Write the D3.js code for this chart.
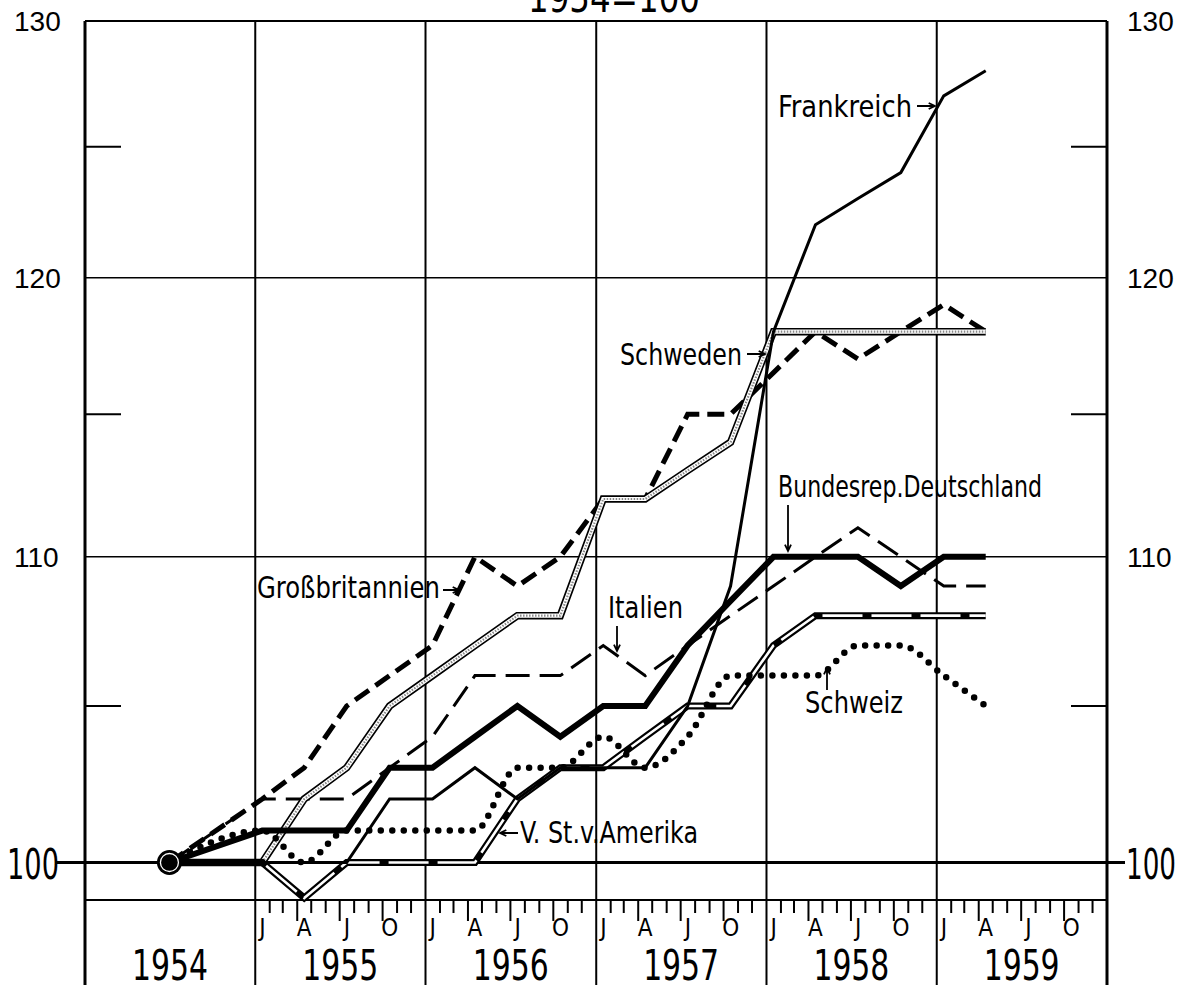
<!DOCTYPE html>
<html>
<head>
<meta charset="utf-8">
<script src="https://cdn.jsdelivr.net/npm/d3@7"></script>
<style>
  body { margin: 0; background: #fff; }
  svg { display: block; }
  .cond { font-family: "DejaVu Sans Condensed", "Liberation Sans Narrow", sans-serif; }
  .plain { font-family: "Liberation Sans", Arial, sans-serif; }
</style>
</head>
<body>
<svg id="chart" width="1187" height="991"></svg>
<script>
// Zeitpunkte: 1954 = Jahresdurchschnitt, danach Quartale (Jan, Apr, Jul, Okt)
const periods = ["1954-07-01",
  "1955-01-16","1955-04-16","1955-07-16","1955-10-16",
  "1956-01-16","1956-04-16","1956-07-16","1956-10-16",
  "1957-01-16","1957-04-16","1957-07-16","1957-10-16",
  "1958-01-16","1958-04-16","1958-07-16","1958-10-16",
  "1959-01-16","1959-04-16"];

const frankreich      = [100,100,100,100,102,102,103,102,103,103,103,105,109,118,122,123,124,127,128];
const schweden        = [100,100,102,103,105,106,107,108,108,112,112,113,114,118,118,118,118,118,118];
const grossbritannien = [100,102,103,105,106,107,110,109,110,112,112,115,115,116.5,118,117,118,119,118];
const italien         = [100,102,102,102,103,104,106,106,106,107,106,107,108,109,110,111,110,109,109];
const deutschland     = [100,101,101,101,103,103,104,105,104,105,105,107,108.5,110,110,110,109,110,110];
const usa             = [100,100,98.9,100,100,100,100,102,103,103,104,105,105,107,108,108,108,108,108];
const schweiz         = [100,101,100,101,101,101,101,103,103,104,103,104,106,106,106,107,107,106,105];

const years = [1954,1955,1956,1957,1958,1959];
const monthLetters = ["J","A","J","O"];
const gridValues = [120,110];
const halfValues = [125,115,105];
const axisLabels = [130,120,110];

const svg = d3.select("#chart");
const parse = d3.utcParse("%Y-%m-%d");

// Flaeche
const area = { left: 85, right: 1107, top: 21, base: 862.5, axisLine: 900, bottom: 985 };

const x = d3.scaleUtc()
    .domain([new Date(Date.UTC(1954,0,1)), new Date(Date.UTC(1960,0,1))])
    .range([area.left, area.right]);
const y = d3.scaleLog()
    .domain([100,130])
    .range([area.base, area.top]);

const g = svg.append("g");

// Gitter
g.selectAll(".grid").data(gridValues).enter().append("line")
    .attr("x1", area.left).attr("x2", area.right)
    .attr("y1", d => y(d)).attr("y2", d => y(d))
    .attr("stroke", "#000").attr("stroke-width", 1.6);

g.append("line")
    .attr("x1", area.left).attr("x2", area.right)
    .attr("y1", y(130)).attr("y2", y(130))
    .attr("stroke", "#000").attr("stroke-width", 2);

// kurze Striche bei 125/115/105
halfValues.forEach(v => {
    g.append("line").attr("x1", area.left).attr("x2", area.left + 36)
        .attr("y1", y(v)).attr("y2", y(v)).attr("stroke", "#000").attr("stroke-width", 2);
    g.append("line").attr("x1", area.right - 36).attr("x2", area.right)
        .attr("y1", y(v)).attr("y2", y(v)).attr("stroke", "#000").attr("stroke-width", 2);
});

// Jahreslinien
const yearStarts = years.map(yr => new Date(Date.UTC(yr,0,1))).concat([new Date(Date.UTC(1960,0,1))]);
g.selectAll(".yl").data(yearStarts).enter().append("line")
    .attr("x1", d => x(d)).attr("x2", d => x(d))
    .attr("y1", area.top).attr("y2", area.bottom)
    .attr("stroke", "#000")
    .attr("stroke-width", (d,i) => (i === 0 || i === yearStarts.length - 1) ? 3 : 2);

// Monatsachse
g.append("line")
    .attr("x1", area.left).attr("x2", area.right)
    .attr("y1", area.axisLine).attr("y2", area.axisLine)
    .attr("stroke", "#000").attr("stroke-width", 2);

const months = d3.utcMonth.range(new Date(Date.UTC(1955,0,1)), new Date(Date.UTC(1960,0,1)));
g.selectAll(".mt").data(months.filter(m => m.getUTCMonth() !== 0)).enter().append("line")
    .attr("x1", d => x(d)).attr("x2", d => x(d))
    .attr("y1", area.axisLine)
    .attr("y2", d => area.axisLine + (d.getUTCMonth() % 3 === 0 ? 21 : 13))
    .attr("stroke", "#000").attr("stroke-width", 2);

g.selectAll(".ml").data(months.filter(m => m.getUTCMonth() % 3 === 0)).enter().append("text")
    .attr("class", "cond")
    .attr("x", d => (x(d) + x(d3.utcMonth.offset(d,1))) / 2)
    .attr("y", 936)
    .attr("text-anchor", "middle")
    .attr("font-size", 24)
    .text(d => monthLetters[d.getUTCMonth() / 3]);

g.selectAll(".yr").data(years).enter().append("text")
    .attr("class", "cond")
    .attr("x", d => x(new Date(Date.UTC(d,6,2))) - 38)
    .attr("y", 980)
    .attr("font-size", 43)
    .attr("textLength", 76).attr("lengthAdjust", "spacingAndGlyphs")
    .text(d => d);

// 100-Linie
g.append("line")
    .attr("x1", 55).attr("x2", 1125)
    .attr("y1", y(100)).attr("y2", y(100))
    .attr("stroke", "#000").attr("stroke-width", 3);

// Achsenbeschriftung
axisLabels.forEach(v => {
    g.append("text").attr("class", "plain").attr("x", 14).attr("y", y(v) + 10)
        .attr("font-size", 28).text(v);
    g.append("text").attr("class", "plain").attr("x", 1127).attr("y", y(v) + 10)
        .attr("font-size", 28).text(v);
});
g.append("text").attr("class", "cond").attr("x", 7).attr("y", y(100) + 16)
    .attr("font-size", 42).attr("textLength", 52).attr("lengthAdjust", "spacingAndGlyphs").text("100");
g.append("text").attr("class", "cond").attr("x", 1126).attr("y", y(100) + 16)
    .attr("font-size", 42).attr("textLength", 50).attr("lengthAdjust", "spacingAndGlyphs").text("100");

// Titel (oben angeschnitten)
g.append("text").attr("class", "cond").attr("x", 528).attr("y", 12)
    .attr("font-size", 40).attr("textLength", 172).attr("lengthAdjust", "spacingAndGlyphs")
    .text("1954=100");

// Kurven
const dates = periods.map(parse);
function pts(values) { return values.map((v,i) => [x(dates[i]), y(v)]); }
const line = d3.line();
const smooth = d3.line().curve(d3.curveMonotoneX);

function draw(values, strokes, gen) {
    strokes.forEach(s => {
        g.append("path")
            .attr("d", (gen || line)(pts(values)))
            .attr("fill", "none")
            .attr("stroke", s.color || "#000")
            .attr("stroke-width", s.w)
            .attr("stroke-dasharray", s.dash || null)
            .attr("stroke-linecap", s.cap || "butt")
            .attr("stroke-linejoin", s.join || "miter");
    });
}

draw(italien, [{ w: 3, dash: "24,10" }]);
draw(grossbritannien, [{ w: 5, dash: "17,8" }]);
draw(schweden, [{ w: 7.5 }, { w: 4.2, color: "#fff" }, { w: 2.2, color: "#888", dash: "1.5,1.5" }]);
draw(usa, [{ w: 7 }, { w: 2.6, color: "#fff", dash: "40,9" }]);
draw(schweiz, [{ w: 6.5, dash: "0,11.5", cap: "round" }], smooth);
draw(deutschland, [{ w: 6 }]);
draw(frankreich, [{ w: 3 }]);

// Punkt 1954
g.append("circle").attr("cx", x(dates[0])).attr("cy", y(100)).attr("r", 12.5).attr("fill", "#000");
g.append("circle").attr("cx", x(dates[0])).attr("cy", y(100)).attr("r", 9)
    .attr("fill", "none").attr("stroke", "#fff").attr("stroke-width", 1.3);

// Beschriftungen mit Pfeilen
const labels = [
    { t: "Frankreich", x: 778, y: 117, w: 134, a: [917,106,935,106] },
    { t: "Schweden", x: 620, y: 365, w: 122, a: [747,354,765,354] },
    { t: "Bundesrep.Deutschland", x: 778, y: 497, w: 264, a: [788,505,788,551] },
    { t: "Großbritannien", x: 257, y: 598, w: 183, a: [443,590,459,590] },
    { t: "Italien", x: 608, y: 618, w: 75, a: [617,626,617,651] },
    { t: "Schweiz", x: 805, y: 713, w: 98, a: [827,690,827,668] },
    { t: "V. St.v.Amerika", x: 520, y: 843, w: 178, a: [518,833,500,833] }
];

labels.forEach(l => {
    g.append("text").attr("class", "cond")
        .attr("x", l.x).attr("y", l.y)
        .attr("font-size", 30)
        .attr("textLength", l.w).attr("lengthAdjust", "spacingAndGlyphs")
        .text(l.t);
    const [x1,y1,x2,y2] = l.a;
    const ang = Math.atan2(y2 - y1, x2 - x1);
    const h = 7, sp = 0.45;
    g.append("path")
        .attr("d", `M${x1},${y1}L${x2},${y2}` +
            `M${x2 - h*Math.cos(ang - sp)},${y2 - h*Math.sin(ang - sp)}L${x2},${y2}` +
            `L${x2 - h*Math.cos(ang + sp)},${y2 - h*Math.sin(ang + sp)}`)
        .attr("fill", "none").attr("stroke", "#000").attr("stroke-width", 1.8);
});
</script>
</body>
</html>
